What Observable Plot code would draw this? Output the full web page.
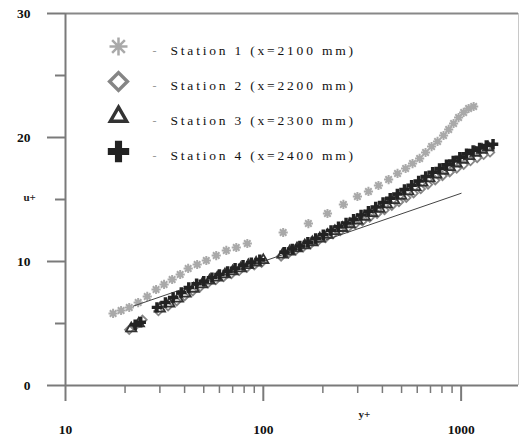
<!DOCTYPE html>
<html><head><meta charset="utf-8">
<script src="https://cdn.jsdelivr.net/npm/d3@7"></script>
<script src="https://cdn.jsdelivr.net/npm/@observablehq/plot@0.6"></script>
<style>
html,body{margin:0;padding:0;background:#fff;}
.lg text{letter-spacing:2.8px;}
</style></head><body><div id="chart"></div>
<script>
// ---- data ----
const st1Yp = [17.4,19.1,21.0,23.3,25.9,28.7,31.5,34.6,38.0,41.7,46.3,51.5,57.8,65.0,73.0,83.0,126,169,211,254,299,340,382,430,477,524,568,617,661,709,760,815,865,916,971,1030,1091,1157];
const st1Up = [5.81,6.05,6.29,6.69,7.18,7.74,8.15,8.55,8.95,9.44,9.76,10.08,10.48,10.89,11.13,11.45,12.34,13.06,13.87,14.60,15.24,15.65,16.13,16.61,17.10,17.50,17.90,18.31,18.79,19.27,19.68,20.16,20.65,21.13,21.61,22.02,22.34,22.50];

const st2Yp = [21,22.5,24.5,29.5,33,36.5,40,44,48,52.5,57.5,63,69,75.5,82.5,90,98,123,134,146,159,173,189,206,225,245,267,291,317,345,376,410,446,485,528,575,625,680,740,805,875,950,1030,1115,1205,1300,1400];
const st2Up = [4.5,4.8,5.3,6.0,6.4,6.8,7.2,7.6,7.95,8.25,8.5,8.75,9.0,9.25,9.5,9.7,9.9,10.4,10.65,10.9,11.15,11.4,11.65,11.9,12.2,12.45,12.7,13.0,13.25,13.55,13.85,14.15,14.5,14.8,15.15,15.5,15.85,16.2,16.55,16.9,17.2,17.5,17.8,18.1,18.35,18.6,18.8];

const st3Yp = [21.5,23.5,30,33.5,37,40.5,44.5,49,53.5,58.5,64,70,77,84,92,100,125,136,148,162,177,193,211,230,251,274,299,326,355,387,421,458,498,541,588,638,692,750,812,878,948,1022,1100,1185,1275,1370];
const st3Up = [4.6,5.0,6.2,6.6,7.0,7.4,7.8,8.15,8.45,8.7,8.95,9.2,9.45,9.7,9.9,10.1,10.55,10.8,11.05,11.3,11.55,11.85,12.15,12.45,12.7,13.0,13.3,13.6,13.9,14.25,14.6,14.95,15.3,15.65,16.0,16.35,16.7,17.0,17.3,17.6,17.9,18.2,18.5,18.75,19.0,19.2];

const st4Yp = [22.5,24,29,32,35,38.5,42,46,50,55,60,66,72,79,87,96,128,140,153,168,184,201,220,240,262,286,312,340,370,403,438,476,517,562,610,662,718,778,843,912,985,1065,1150,1240,1340,1450];
const st4Up = [4.9,5.1,6.3,6.7,7.1,7.5,7.9,8.2,8.4,8.7,8.95,9.2,9.45,9.7,9.9,10.15,10.75,11.0,11.25,11.55,11.85,12.15,12.5,12.8,13.1,13.4,13.75,14.05,14.4,14.75,15.1,15.45,15.8,16.15,16.5,16.85,17.2,17.5,17.8,18.1,18.4,18.7,18.95,19.15,19.35,19.45];

const lawYp = [22, 1000];
const lawUp = [6.4, 15.5];

const legendLabels = ["Station 1 (x=2100 mm)","Station 2 (x=2200 mm)","Station 3 (x=2300 mm)","Station 4 (x=2400 mm)"];
const yMajor = [0,10,20,30];
const yMinor = [5,15,25];
const xMajor = [10,100,1000];
const xMinor = [20,30,40,50,60,70,80,90,200,300,400,500,600,700,800,900];
const xMax = 1950;

// ---- build tables ----
const pts = (xs, ys) => xs.map((x,i) => ({yp:x, up:ys[i]}));
const st1 = pts(st1Yp, st1Up), st2 = pts(st2Yp, st2Up), st3 = pts(st3Yp, st3Up), st4 = pts(st4Yp, st4Up);
const law = pts(lawYp, lawUp);

const star8 = {
  draw(ctx, size) {
    const r = Math.sqrt(size / Math.PI);
    for (let i = 0; i < 4; i++) {
      const a = i * Math.PI / 4;
      ctx.moveTo(r*Math.cos(a), r*Math.sin(a));
      ctx.lineTo(-r*Math.cos(a), -r*Math.sin(a));
    }
  }
};

const styles = [
  {symbol: star8, fill: "none", stroke: "#a9a9a9"},
  {symbol: "diamond2", fill: "none", stroke: "#858585"},
  {symbol: "triangle", fill: "none", stroke: "#333"},
  {symbol: "cross", fill: "#222", stroke: "none"}
];
const rData = [4.6, 3.8, 3.8, 4.4];
const swData = [2, 1.8, 1.8, 0];
const rLeg = [9, 8, 6, 9];
const swLeg = [2.5, 3.5, 3.5, 0];

const axisColor = "#7a7a7a";
const F = "Liberation Serif";

const legendMarks = legendLabels.flatMap((lab, i) => [
  Plot.dot([lab], {frameAnchor: "top-left", dx: 53, dy: 33 + i*35, r: rLeg[i], ...styles[i], strokeWidth: swLeg[i]}),
  Plot.text(["-"], {text: d => d, frameAnchor: "top-left", dx: 87, dy: 33 + i*35, fill: "#999", fontSize: 12, fontFamily: F}),
  Plot.text([lab], {text: d => d, frameAnchor: "top-left", dx: 105, dy: 32 + i*35, textAnchor: "start", fill: "#111", fontSize: 13.5, fontFamily: F, className: "lg"})
]);

const chart = Plot.plot({
  width: 519, height: 439,
  marginLeft: 65, marginRight: 1, marginTop: 13, marginBottom: 54,
  x: {type: "log", domain: [10, xMax]},
  y: {domain: [0, 30]},
  style: {background: "white", fontFamily: F, color: "#222"},
  marks: [
    Plot.ruleX([xMax], {stroke: "#c8c8c8", strokeWidth: 1}),
    Plot.ruleY([30], {stroke: "#888", strokeWidth: 2}),
    Plot.ruleY([0], {stroke: axisColor, strokeWidth: 2}),
    Plot.ruleX([10], {stroke: axisColor, strokeWidth: 2}),
    Plot.axisY(yMinor, {tickSize: 10, tickFormat: () => "", stroke: axisColor, strokeWidth: 2, label: null}),
    Plot.axisY(yMajor, {tickSize: 18, tickPadding: 17, tickFormat: d => String(d), fontSize: 13.5, fontWeight: "bold", fontFamily: F, fill: "#111", stroke: axisColor, strokeWidth: 2, label: null}),
    Plot.axisX(xMinor, {tickSize: 8, tickFormat: () => "", stroke: axisColor, strokeWidth: 1.5, label: null}),
    Plot.axisX(xMajor, {tickSize: 16, tickPadding: 23, tickFormat: d => String(d), fontSize: 13.5, fontWeight: "bold", fontFamily: F, fill: "#111", stroke: axisColor, strokeWidth: 2, label: null}),
    Plot.text(["u+"], {text: d => d, frameAnchor: "left", dx: -42, dy: -2, fontSize: 11, fontWeight: "bold", fontFamily: F}),
    Plot.text(["y+"], {text: d => d, frameAnchor: "bottom-left", dx: 293, dy: 32, fontSize: 11, fontWeight: "bold", fontFamily: F}),
    Plot.dot(st1, {x: "yp", y: "up", r: rData[0], ...styles[0], strokeWidth: swData[0]}),
    Plot.dot(st2, {x: "yp", y: "up", r: rData[1], ...styles[1], strokeWidth: swData[1]}),
    Plot.line(law, {x: "yp", y: "up", stroke: "#444", strokeWidth: 1}),
    Plot.dot(st3, {x: "yp", y: "up", r: rData[2], ...styles[2], strokeWidth: swData[2]}),
    Plot.dot(st4, {x: "yp", y: "up", r: rData[3], ...styles[3]}),
    ...legendMarks
  ]
});
document.getElementById("chart").append(chart);
</script></body></html>
